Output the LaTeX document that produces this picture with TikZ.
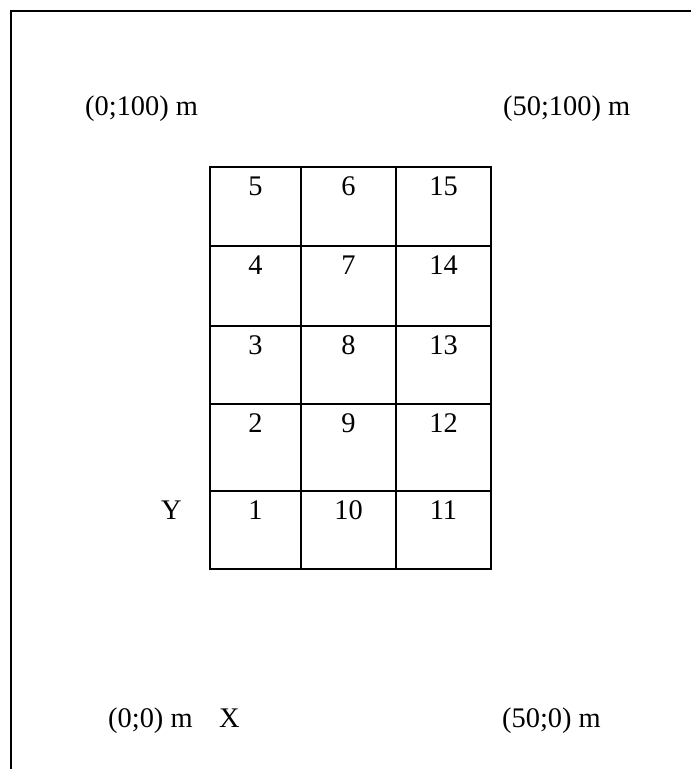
\documentclass[tikz,border=0pt]{standalone}
\usepackage{fontspec}
\setmainfont{Liberation Serif}
\begin{document}
\begin{tikzpicture}[x=1pt,y=-1pt,
  lbl/.style={inner sep=0pt,anchor=base west,font=\fontsize{28.4}{34}\selectfont},
  num/.style={inner sep=0pt,anchor=base,font=\fontsize{28.4}{34}\selectfont},
  frame/.style={line width=2.4pt},
  gridline/.style={line width=2.4pt,line cap=rect}]
\useasboundingbox (0,0) rectangle (691,769);
% frame (only top and left visible)
\coordinate (fbl) at (11,772);
\coordinate (ftl) at (11,11);
\coordinate (ftr) at (694,11);
\draw[frame] (fbl) -- (ftl) -- (ftr);
% corner labels
\node[lbl] (c1) at (85,115) {(0;100) m};
\node[lbl] (c2) at (503,115) {(50;100) m};
\node[lbl] (c3) at (108,727) {(0;0) m};
\node[lbl] (cx) at (219,727) {X};
\node[lbl] (c4) at (502,727) {(50;0) m};
\node[lbl] (cy) at (161,519) {Y};
% grid
\foreach \x in {210,301,396,491} \draw[gridline] (\x,167) -- (\x,569);
\foreach \y in {167,246,326,404,491,569} \draw[gridline] (210,\y) -- (491,\y);
% numbers (baseline = row top + 28)
\node[num] (n5)  at (255.5,195) {5};
\node[num] (n6)  at (348.5,195) {6};
\node[num] (n15) at (443.5,195) {15};
\node[num] (n4)  at (255.5,274) {4};
\node[num] (n7)  at (348.5,274) {7};
\node[num] (n14) at (443.5,274) {14};
\node[num] (n3)  at (255.5,354) {3};
\node[num] (n8)  at (348.5,354) {8};
\node[num] (n13) at (443.5,354) {13};
\node[num] (n2)  at (255.5,432) {2};
\node[num] (n9)  at (348.5,432) {9};
\node[num] (n12) at (443.5,432) {12};
\node[num] (n1)  at (255.5,519) {1};
\node[num] (n10) at (348.5,519) {10};
\node[num] (n11) at (443.5,519) {11};
\end{tikzpicture}
\end{document}
